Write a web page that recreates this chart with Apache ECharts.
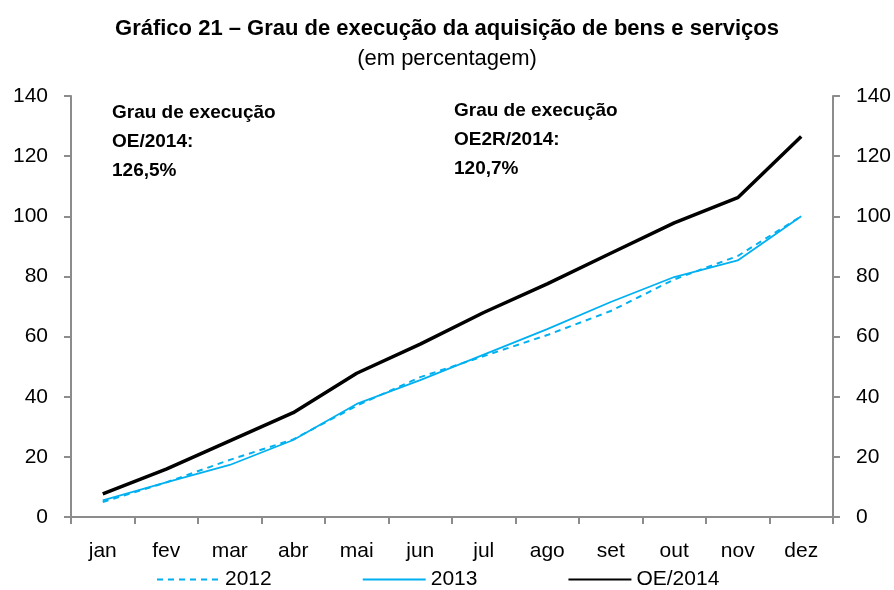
<!DOCTYPE html>
<html>
<head>
<meta charset="utf-8">
<script src="https://cdn.jsdelivr.net/npm/echarts@6/dist/echarts.min.js"></script>
<style>
  html, body { margin: 0; padding: 0; background: #fff; }
  #chart { width: 894px; height: 590px; }
</style>
</head>
<body>
<div id="chart"></div>
<script>
'use strict';
// categorias (meses)
var meses = ['jan', 'fev', 'mar', 'abr', 'mai', 'jun', 'jul', 'ago', 'set', 'out', 'nov', 'dez'];
// séries, em percentagem
var serie2012 = [5.0, 11.5, 19.0, 25.8, 37.0, 46.5, 53.5, 60.5, 68.5, 79.0, 86.8, 100];
var serie2013 = [5.5, 11.5, 17.3, 25.6, 37.6, 45.5, 54.0, 62.5, 71.5, 79.8, 85.3, 100];
var serieOE2014 = [7.7, 15.9, 25.3, 34.7, 47.8, 57.5, 68.0, 77.5, 87.7, 97.8, 106.2, 126.5];
var yMin = 0, yMax = 140, yStep = 20;

var fonte = 'Liberation Sans';
var cinza = '#8c8c8c';
var azul = '#00b0f0';

function eixoY(pos) {
    return {
        type: 'value',
        position: pos,
        min: yMin,
        max: yMax,
        interval: yStep,
        splitLine: { show: false },
        axisLine: { show: true, lineStyle: { color: cinza, width: 2 } },
        axisTick: { show: true, length: 7, lineStyle: { color: cinza, width: 2 } },
        axisLabel: { color: '#000', fontSize: 21, fontFamily: fonte, margin: 23 }
    };
}

function init() {
    var chart = echarts.init(document.getElementById('chart'));
    var option = {
        animation: false,
        title: {
            text: 'Gráfico 21 – Grau de execução da aquisição de bens e serviços',
            subtext: '(em percentagem)',
            left: 'center',
            top: 13,
            itemGap: 8,
            textStyle: { fontSize: 22, fontWeight: 'bold', color: '#000', fontFamily: fonte },
            subtextStyle: { fontSize: 22, color: '#000', fontFamily: fonte }
        },
        grid: { left: 71, right: 61, top: 96, bottom: 73 },
        legend: {
            bottom: -5,
            left: 151,
            itemWidth: 63,
            itemHeight: 12,
            itemGap: 90,
            itemStyle: { color: 'rgba(0,0,0,0)', borderWidth: 0, opacity: 0 },
            textStyle: { fontSize: 21, color: '#000', fontFamily: fonte },
            data: ['2012', '2013', 'OE/2014']
        },
        xAxis: {
            type: 'category',
            data: meses,
            boundaryGap: true,
            axisLine: { lineStyle: { color: cinza, width: 2 } },
            axisTick: { show: true, length: 7, lineStyle: { color: cinza, width: 2 } },
            axisLabel: { color: '#000', fontSize: 21, fontFamily: fonte, margin: 24 }
        },
        yAxis: [eixoY('left'), eixoY('right')],
        graphic: [
            {
                type: 'text', left: 112, top: 98,
                style: {
                    text: 'Grau de execução\nOE/2014:\n126,5%',
                    font: 'bold 19px ' + fonte, lineHeight: 29, fill: '#000'
                }
            },
            {
                type: 'text', left: 454, top: 96,
                style: {
                    text: 'Grau de execução\nOE2R/2014:\n120,7%',
                    font: 'bold 19px ' + fonte, lineHeight: 29, fill: '#000'
                }
            }
        ],
        series: [
            {
                name: '2012', type: 'line', data: serie2012, symbol: 'none',
                lineStyle: { color: azul, width: 2, type: [6, 5] },
                itemStyle: { color: azul }
            },
            {
                name: '2013', type: 'line', data: serie2013, symbol: 'none',
                lineStyle: { color: azul, width: 1.8 },
                itemStyle: { color: azul }
            },
            {
                name: 'OE/2014', type: 'line', data: serieOE2014, symbol: 'none',
                lineStyle: { color: '#000', width: 3.5 },
                itemStyle: { color: '#000' }
            }
        ]
    };
    chart.setOption(option);
}

(function () {
    init();
})();
</script>
</body>
</html>
